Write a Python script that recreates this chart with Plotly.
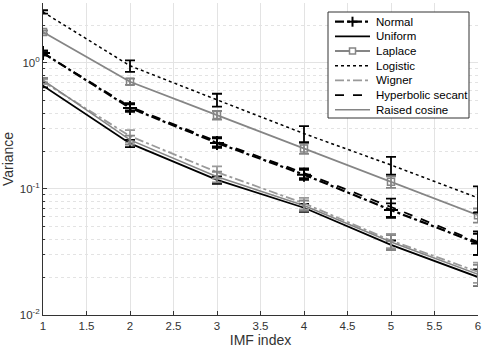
import plotly.graph_objects as go

imf = [1, 2, 3, 4, 5, 6]

normal = [1.20, 0.44, 0.232, 0.130, 0.068, 0.037]
uniform = [0.66, 0.23, 0.118, 0.071, 0.036, 0.020]
laplace = [1.76, 0.71, 0.386, 0.210, 0.114, 0.062]
logistic = [2.54, 0.95, 0.51, 0.275, 0.155, 0.085]
wigner = [0.71, 0.263, 0.136, 0.077, 0.039, 0.022]
hypsec = [1.20, 0.45, 0.238, 0.134, 0.072, 0.038]
raised = [0.73, 0.245, 0.125, 0.074, 0.038, 0.021]

err_normal = [0.05, 0.03, 0.02, 0.012, 0.009, 0.007]
err_uniform = [0.02, 0.015, 0.008, 0.005, 0.003, 0.003]
err_laplace = [0.05, 0.04, 0.03, 0.02, 0.012, 0.008]
err_logistic = [0.08, 0.1, 0.06, 0.04, 0.025, 0.02]
err_wigner = [0.03, 0.03, 0.015, 0.008, 0.005, 0.004]
err_hypsec = [0.05, 0.03, 0.02, 0.012, 0.012, 0.008]
err_raised = [0.03, 0.02, 0.012, 0.007, 0.005, 0.004]

BLACK = "#000000"
GRAY = "#858585"
LGRAY = "#9a9a9a"

series = [
    ("Normal", normal, err_normal, BLACK, "dashdot", 2.2, dict(symbol="cross-thin", size=10, line=dict(width=2, color=BLACK))),
    ("Uniform", uniform, err_uniform, BLACK, "solid", 1.8, None),
    ("Laplace", laplace, err_laplace, GRAY, "solid", 1.8, dict(symbol="square-open", size=7, color=GRAY, line=dict(width=1.5, color=GRAY))),
    ("Logistic", logistic, err_logistic, BLACK, "dot", 1.5, None),
    ("Wigner", wigner, err_wigner, LGRAY, "dashdot", 1.8, None),
    ("Hyperbolic secant", hypsec, err_hypsec, BLACK, "dash", 1.8, None),
    ("Raised cosine", raised, err_raised, GRAY, "solid", 1.5, None),
]

FONT = "Liberation Sans, Arial, sans-serif"

fig = go.Figure()
for name, vals, errs, color, dash, width, marker in series:
    fig.add_trace(go.Scatter(
        x=imf, y=vals, name=name, showlegend=False,
        mode="lines+markers" if marker else "lines",
        line=dict(color=color, dash=dash, width=width),
        marker=marker if marker else None,
        error_y=dict(type="data", array=errs, visible=True, color=color, thickness=1.8, width=5),
    ))

# Custom legend (paper coordinates), compact like the reference
L, R, T, B = 43, 478, 3, 315
def px(xp):
    return (xp - L) / (R - L)
def py(yp):
    return 1 - (yp - T) / (B - T)

shapes = [dict(type="rect", xref="paper", yref="paper",
               x0=px(328), x1=px(469), y0=py(118), y1=py(12),
               line=dict(color="#333333", width=1), fillcolor="white", layer="above")]
annotations = []
row_y = [21.7, 36.3, 51, 65.7, 80.4, 95.1, 109.8]
for (name, vals, errs, color, dash, width, marker), yy in zip(series, row_y):
    shapes.append(dict(type="line", xref="paper", yref="paper",
                       x0=px(335), x1=px(370), y0=py(yy), y1=py(yy),
                       line=dict(color=color, dash=dash, width=width), layer="above"))
    annotations.append(dict(xref="paper", yref="paper", x=px(374), y=py(yy),
                            xanchor="left", yanchor="middle", text=name, showarrow=False,
                            font=dict(family=FONT, size=11.5, color="#000000")))
    if name == "Normal":
        shapes.append(dict(type="line", xref="paper", yref="paper",
                           x0=px(352.5), x1=px(352.5), y0=py(yy - 5), y1=py(yy + 5),
                           line=dict(color=BLACK, width=2), layer="above"))
        shapes.append(dict(type="line", xref="paper", yref="paper",
                           x0=px(347.5), x1=px(357.5), y0=py(yy), y1=py(yy),
                           line=dict(color=BLACK, width=2), layer="above"))
    if name == "Laplace":
        shapes.append(dict(type="rect", xref="paper", yref="paper",
                           x0=px(349.5), x1=px(355.5), y0=py(yy + 3), y1=py(yy - 3),
                           line=dict(color=GRAY, width=1.5), fillcolor="white", layer="above"))

fig.update_layout(
    width=484, height=348,
    margin=dict(l=L, r=484 - R, t=T, b=348 - B),
    paper_bgcolor="white", plot_bgcolor="white",
    font=dict(family=FONT, size=11.5, color="#333333"),
    showlegend=False,
    shapes=shapes,
    annotations=annotations,
    xaxis=dict(
        range=[1, 6], tickmode="array",
        tickvals=[1, 1.5, 2, 2.5, 3, 3.5, 4, 4.5, 5, 5.5, 6],
        ticktext=["1", "1.5", "2", "2.5", "3", "3.5", "4", "4.5", "5", "5.5", "6"],
        showgrid=True, gridcolor="#e3e3e3", gridwidth=1,
        showline=True, linecolor="#333333", linewidth=1,
        ticks="inside", ticklen=4, tickcolor="#333333",
        zeroline=False,
        title=dict(text="IMF index", font=dict(size=14, color="#333333"), standoff=4),
    ),
    yaxis=dict(
        type="log", range=[-2, 0.476],
        tickmode="array", tickvals=[0.01, 0.1, 1],
        ticktext=["10<sup>-2</sup>", "10<sup>-1</sup>", "10<sup>0</sup>"],
        showgrid=True, gridcolor="#e3e3e3", gridwidth=1,
        showline=True, linecolor="#333333", linewidth=1,
        ticks="inside", ticklen=4, tickcolor="#333333",
        zeroline=False,
        minor=dict(showgrid=True, gridcolor="#e3e3e3", griddash="dot", ticks="inside", ticklen=2, tickcolor="#333333",
                   tickvals=[0.02, 0.03, 0.04, 0.05, 0.06, 0.07, 0.08, 0.09, 0.2, 0.3, 0.4, 0.5, 0.6, 0.7, 0.8, 0.9, 2, 3]),
        title=dict(text="Variance", font=dict(size=14, color="#333333"), standoff=8),
    ),
)

fig.write_html("out.html")
